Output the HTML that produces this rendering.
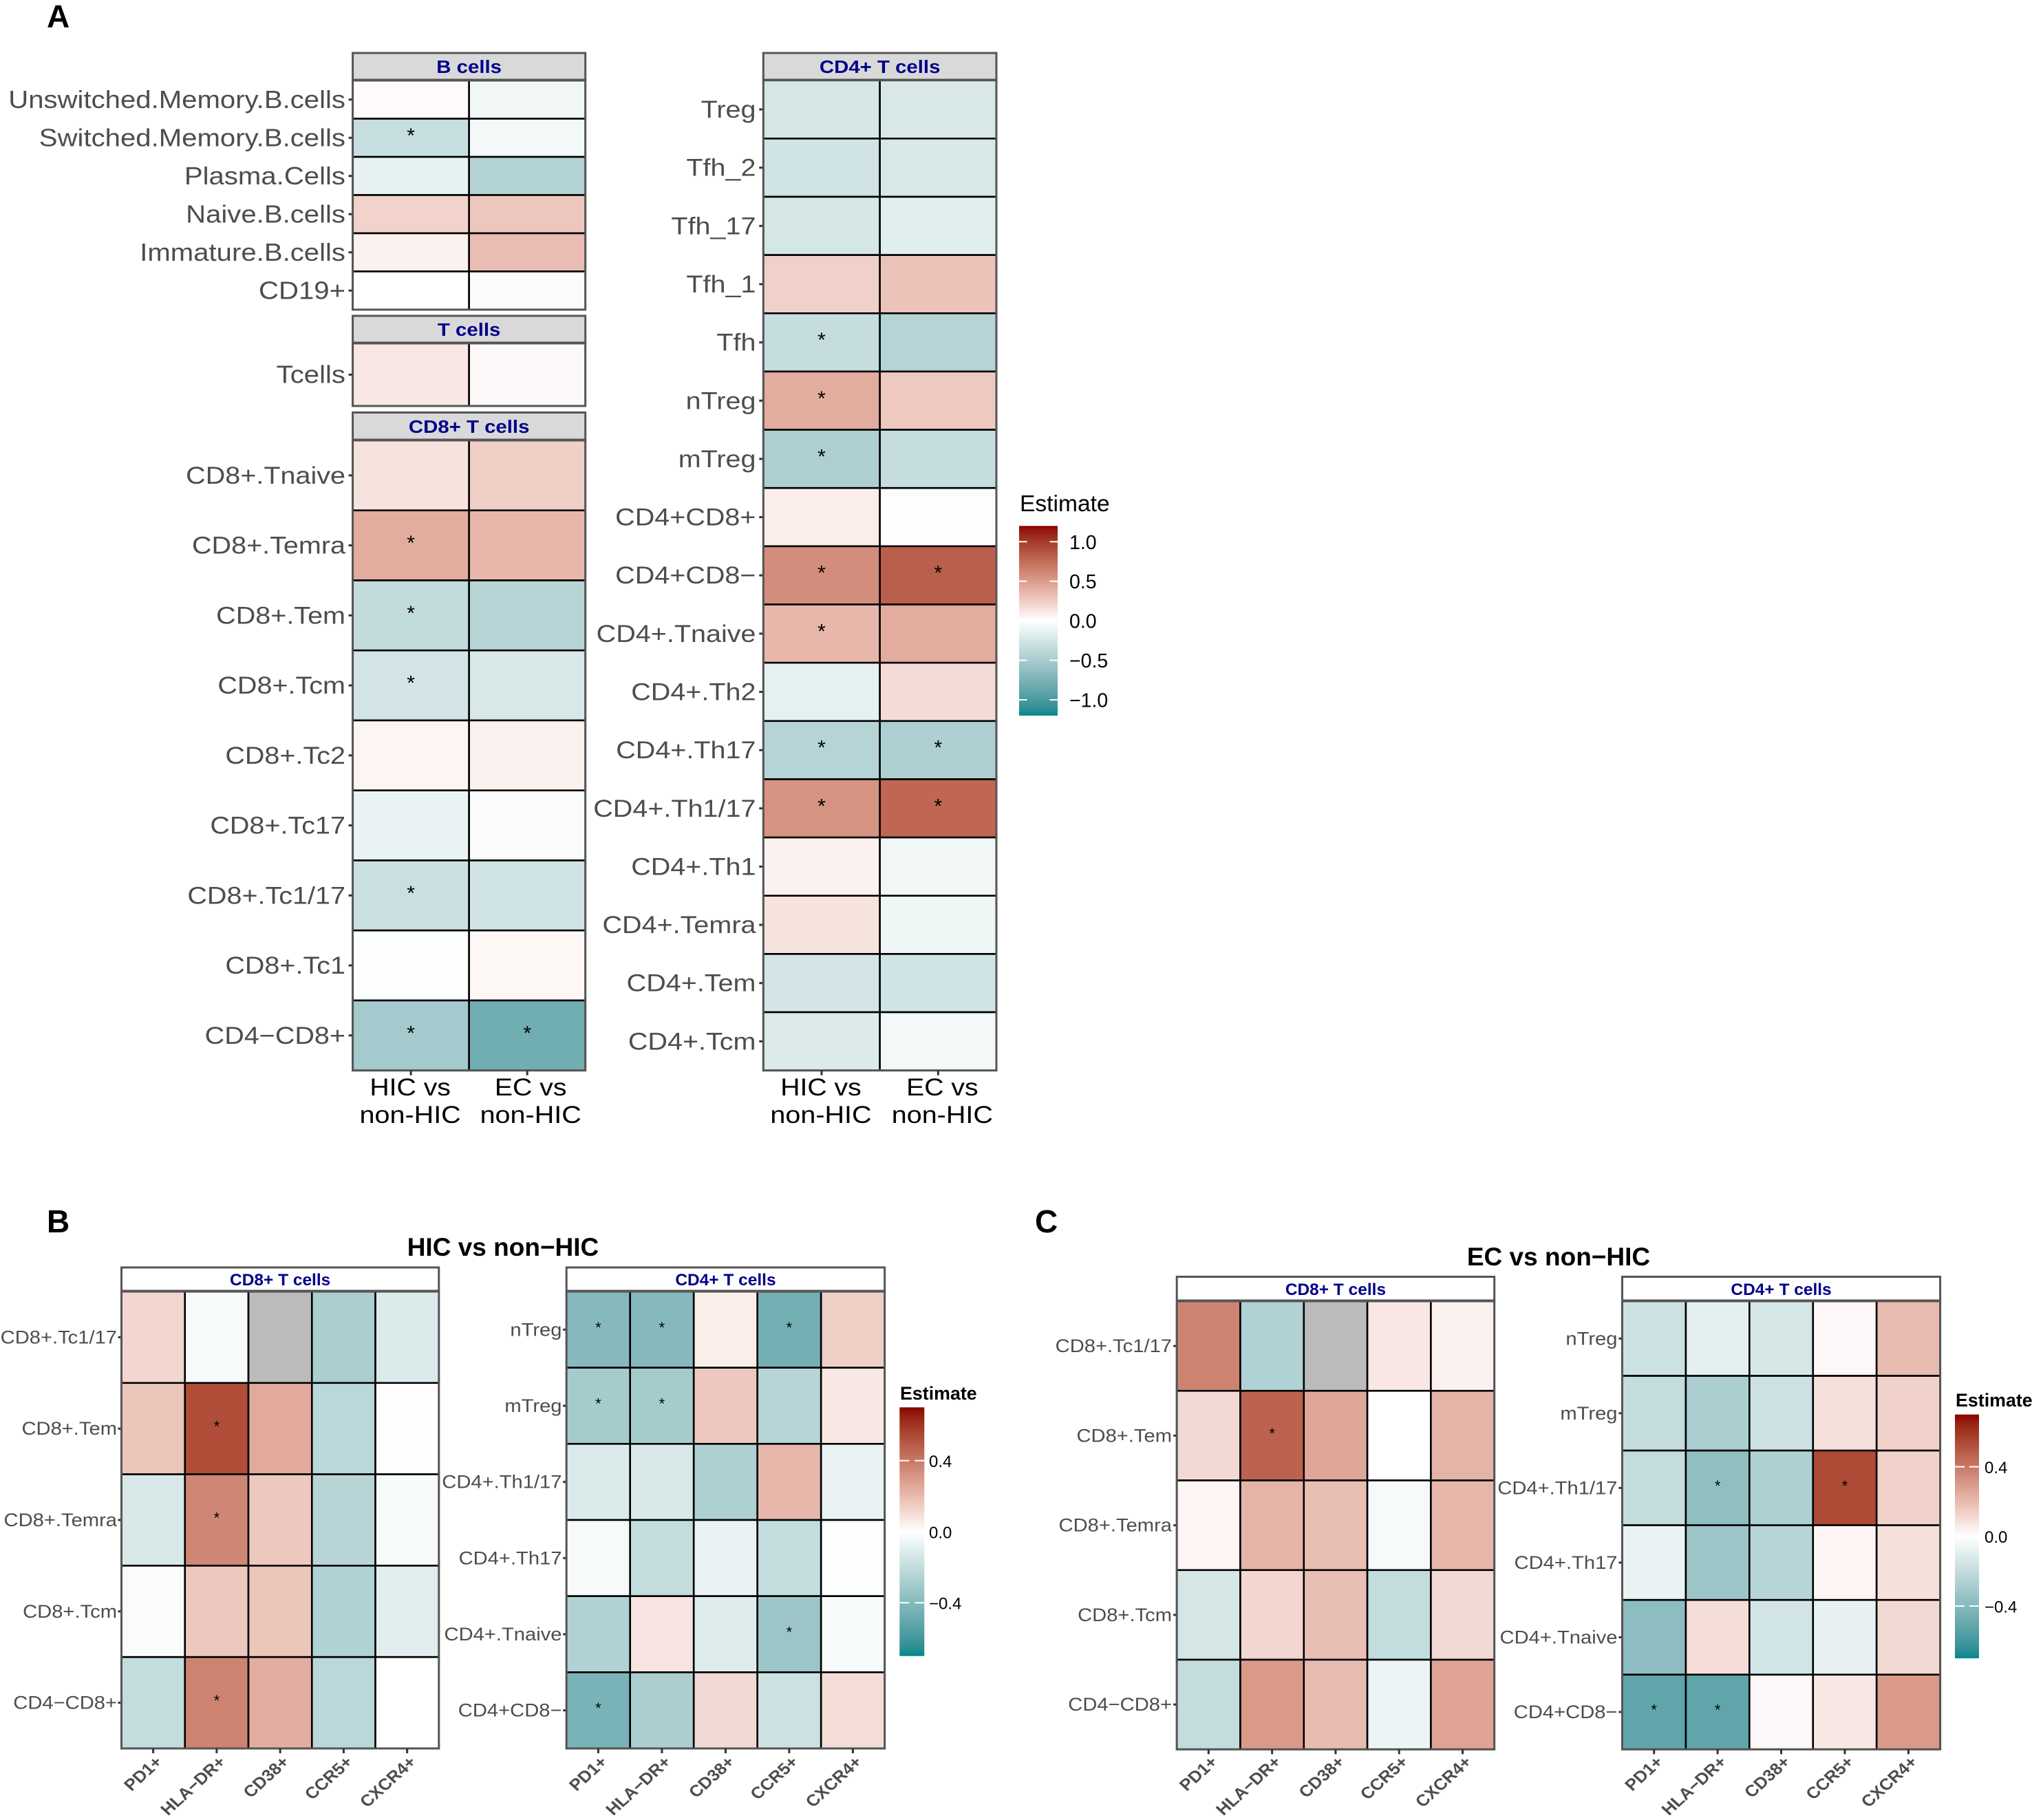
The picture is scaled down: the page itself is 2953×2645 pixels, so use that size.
<!DOCTYPE html>
<html lang="en">
<head>
<meta charset="utf-8">
<title>Immune cell estimate heatmaps</title>
<style>
html,body{margin:0;padding:0;background:#fff;}
svg{display:block;font-family:"Liberation Sans",sans-serif;}
</style>
</head>
<body>
<svg id="figure" xmlns="http://www.w3.org/2000/svg" width="2953" height="2645" viewBox="0 0 2953 2645">
<rect x="0" y="0" width="2953" height="2645" fill="#ffffff"/>
<text x="68" y="39.5" font-size="46" font-weight="700" fill="#000">A</text>
<text x="68" y="1791" font-size="46" font-weight="700" fill="#000">B</text>
<text x="1504" y="1791" font-size="46" font-weight="700" fill="#000">C</text>
<text x="731" y="1825" font-size="37" font-weight="700" text-anchor="middle" fill="#000">HIC vs non−HIC</text>
<text x="2265" y="1839" font-size="37" font-weight="700" text-anchor="middle" fill="#000">EC vs non−HIC</text>
</svg>
<script>
// ---------- Panel A data ----------
const compareLine1 = ["HIC vs", "EC vs"];
const compareLine2 = ["non-HIC", "non-HIC"];

const aBRows = ["Unswitched.Memory.B.cells","Switched.Memory.B.cells","Plasma.Cells","Naive.B.cells","Immature.B.cells","CD19+"];
const aBValues = [[0.02,-0.08],[-0.32,-0.07],[-0.14,-0.44],[0.22,0.28],[0.07,0.33],[0,-0.03]];
const aBStars = [[0,0],[1,0],[0,0],[0,0],[0,0],[0,0]];

const aTRows = ["Tcells"];
const aTValues = [[0.12,0.03]];
const aTStars = [[0,0]];

const aCD8Rows = ["CD8+.Tnaive","CD8+.Temra","CD8+.Tem","CD8+.Tcm","CD8+.Tc2","CD8+.Tc17","CD8+.Tc1/17","CD8+.Tc1","CD4−CD8+"];
const aCD8Values = [[0.14,0.24],[0.42,0.36],[-0.35,-0.42],[-0.26,-0.22],[0.05,0.07],[-0.12,-0.03],[-0.31,-0.27],[-0.01,0.04],[-0.52,-0.80]];
const aCD8Stars = [[0,0],[1,0],[1,0],[1,0],[0,0],[0,0],[1,0],[0,0],[1,1]];

const aCD4Rows = ["Treg","Tfh_2","Tfh_17","Tfh_1","Tfh","nTreg","mTreg","CD4+CD8+","CD4+CD8−","CD4+.Tnaive","CD4+.Th2","CD4+.Th17","CD4+.Th1/17","CD4+.Th1","CD4+.Temra","CD4+.Tem","CD4+.Tcm"];
const aCD4Values = [[-0.24,-0.22],[-0.27,-0.22],[-0.24,-0.17],[0.23,0.30],[-0.33,-0.42],[0.42,0.27],[-0.47,-0.33],[0.09,0.01],[0.58,0.82],[0.36,0.42],[-0.15,0.18],[-0.42,-0.47],[0.55,0.78],[0.07,-0.08],[0.14,-0.09],[-0.25,-0.27],[-0.20,-0.07]];
const aCD4Stars = [[0,0],[0,0],[0,0],[0,0],[1,0],[1,0],[1,0],[0,0],[1,1],[1,0],[0,0],[1,1],[1,1],[0,0],[0,0],[0,0],[0,0]];

// ---------- Panels B and C data ----------
const markers = ["PD1+","HLA−DR+","CD38+","CCR5+","CXCR4+"];
const cd8Rows = ["CD8+.Tc1/17","CD8+.Tem","CD8+.Temra","CD8+.Tcm","CD4−CD8+"];
const cd4Rows = ["nTreg","mTreg","CD4+.Th1/17","CD4+.Th17","CD4+.Tnaive","CD4+CD8−"];

const bCD8Values = [[0.12,-0.03,null,-0.28,-0.12],[0.17,0.53,0.25,-0.23,0.005],[-0.13,0.36,0.16,-0.24,-0.03],[-0.02,0.16,0.17,-0.26,-0.10],[-0.20,0.37,0.24,-0.23,0]];
const bCD8Stars = [[0,0,0,0,0],[0,1,0,0,0],[0,1,0,0,0],[0,0,0,0,0],[0,1,0,0,0]];
const bCD4Values = [[-0.40,-0.40,0.05,-0.46,0.14],[-0.30,-0.30,0.16,-0.24,0.07],[-0.12,-0.13,-0.27,0.21,-0.07],[-0.03,-0.20,-0.07,-0.20,-0.01],[-0.26,0.08,-0.11,-0.33,-0.03],[-0.44,-0.28,0.11,-0.17,0.10]];
const bCD4Stars = [[1,1,0,1,0],[1,1,0,0,0],[0,0,0,0,0],[0,0,0,0,0],[0,0,0,1,0],[1,0,0,0,0]];

const cCD8Values = [[0.37,-0.26,null,0.07,0.04],[0.11,0.47,0.26,0,0.22],[0.03,0.22,0.19,-0.03,0.21],[-0.14,0.12,0.19,-0.20,0.11],[-0.20,0.30,0.20,-0.06,0.27]];
const cCD8Stars = [[0,0,0,0,0],[0,1,0,0,0],[0,0,0,0,0],[0,0,0,0,0],[0,0,0,0,0]];
const cCD4Values = [[-0.17,-0.09,-0.14,0.02,0.20],[-0.20,-0.28,-0.17,0.09,0.13],[-0.20,-0.37,-0.27,0.54,0.13],[-0.07,-0.33,-0.24,0.03,0.09],[-0.38,0.10,-0.15,-0.08,0.11],[-0.52,-0.52,0.02,0.07,0.30]];
const cCD4Stars = [[0,0,0,0,0],[0,0,0,0,0],[0,1,0,1,0],[0,0,0,0,0],[0,0,0,0,0],[1,1,0,0,0]];

// ---------- Legend data ----------
const legendATicks = [1.0,0.5,0,-0.5,-1.0];
const legendATickLabels = ["1.0","0.5","0.0","−0.5","−1.0"];
const legendSmallTicks = [0.4,0,-0.4];
const legendSmallTickLabels = ["0.4","0.0","−0.4"];
const limitA = 1.2;
const limitBC = 0.7;

// ---------- Helpers ----------
const svg = document.getElementById('figure');
const NS = 'http://www.w3.org/2000/svg';

function mk(tag, name, parent) {
  const el = document.createElementNS(NS, tag);
  
  
  (parent || svg).appendChild(el);
  return el;
}
function attrs(el, o) { for (const k in o) el.setAttribute(k, o[k]); return el; }
function slug(s) { return String(s).toLowerCase().replace(/[^a-z0-9]+/g, '-').replace(/^-|-$/g, ''); }

function label(name, parent, str, x, y, o) {
  const t = mk('text', name, parent);
  const sx = o.sx || 1;
  attrs(t, {
    transform: 'translate(' + x + ',' + y + ') scale(' + sx + ',1)' + (o.rot ? ' rotate(' + o.rot + ')' : ''),
    'font-size': o.size,
    'font-weight': o.bold ? 700 : 400,
    'text-anchor': o.anchor || 'start',
    fill: o.fill || '#000'
  });
  t.textContent = str;
  return t;
}

// Lab colour interpolation (as ggplot2's scale_fill_gradient2)
function hex2rgb(h) { return [1,3,5].map(i => parseInt(h.substr(i,2),16)/255); }
function toLab(c) {
  const l = c.map(v => v <= 0.04045 ? v/12.92 : Math.pow((v+0.055)/1.055, 2.4));
  const X = (0.4124*l[0]+0.3576*l[1]+0.1805*l[2])/0.95047;
  const Y = 0.2126*l[0]+0.7152*l[1]+0.0722*l[2];
  const Z = (0.0193*l[0]+0.1192*l[1]+0.9505*l[2])/1.08883;
  const f = t => t > 0.008856 ? Math.cbrt(t) : 7.787*t + 16/116;
  return [116*f(Y)-16, 500*(f(X)-f(Y)), 200*(f(Y)-f(Z))];
}
function fromLab(L) {
  const fy = (L[0]+16)/116, fx = L[1]/500+fy, fz = fy-L[2]/200;
  const g = t => t*t*t > 0.008856 ? t*t*t : (t-16/116)/7.787;
  const X = g(fx)*0.95047, Y = g(fy), Z = g(fz)*1.08883;
  const r = 3.2406*X-1.5372*Y-0.4986*Z, gg = -0.9689*X+1.8758*Y+0.0415*Z, b = 0.0557*X-0.2040*Y+1.0570*Z;
  const e = v => { v = Math.max(0, Math.min(1, v)); return Math.round(255*(v <= 0.0031308 ? 12.92*v : 1.055*Math.pow(v,1/2.4)-0.055)); };
  return 'rgb(' + e(r) + ',' + e(gg) + ',' + e(b) + ')';
}
const labHigh = toLab(hex2rgb('#8B0000'));
const labLow = toLab(hex2rgb('#00878E'));
const labMid = toLab(hex2rgb('#FFFFFF'));
function colorScale(limit) {
  return function (v) {
    if (v === null) return '#bbbbbb';
    const t = Math.max(-1, Math.min(1, v/limit));
    const end = t >= 0 ? labHigh : labLow, a = Math.abs(t);
    return fromLab(labMid.map((m, i) => m + (end[i]-m)*a));
  };
}
function bandScale(n, a, b) {
  const step = (b-a)/n;
  return { step: step, start: i => a + i*step, center: i => a + (i+0.5)*step };
}

// ---------- Heatmap panel ----------
function drawPanel(p) {
  const g = mk('g', p.name);
  const x = bandScale(p.cols.length, p.x0, p.x1);
  const y = bandScale(p.rows.length, p.y0, p.y1);
  const fill = colorScale(p.limit);

  const strip = mk('rect', p.name + '-strip', g);
  attrs(strip, { x: p.x0, y: p.stripTop, width: p.x1-p.x0, height: p.stripBottom-p.stripTop, fill: p.stripFill, stroke: '#555', 'stroke-width': 3 });
  label(p.name + '-strip-title', g, p.title, (p.x0+p.x1)/2, p.stripBaseline, { size: p.stripSize, sx: p.stripSx, bold: true, anchor: 'middle', fill: '#00008B' });

  p.rows.forEach(function (row, r) {
    const tick = mk('line', 'y-tick-' + slug(row), g);
    attrs(tick, { x1: p.x0-p.tickLen, x2: p.x0, y1: y.center(r), y2: y.center(r), stroke: '#333', 'stroke-width': 3 });
    label('y-label-' + slug(row), g, row, p.labelRight, y.center(r)+p.labelDy, { size: p.labelSize, sx: p.labelSx, anchor: 'end', fill: '#4d4d4d' });

    p.cols.forEach(function (col, c) {
      const cell = mk('rect', 'cell-' + slug(row) + '-' + slug(col), g);
      attrs(cell, { x: x.start(c), y: y.start(r), width: x.step, height: y.step, fill: fill(p.values[r][c]), stroke: '#000', 'stroke-width': 2.6 });
    });
  });

  p.rows.forEach(function (row, r) {
    p.cols.forEach(function (col, c) {
      if (p.stars[r][c]) {
        label('significance-star', g, '*', x.center(c), y.center(r)+p.starDy, { size: p.starSize, anchor: 'middle' });
      }
    });
  });

  const border = mk('rect', p.name + '-border', g);
  attrs(border, { x: p.x0, y: p.y0, width: p.x1-p.x0, height: p.y1-p.y0, fill: 'none', stroke: '#555', 'stroke-width': 3 });

  if (p.showX) {
    p.cols.forEach(function (col, c) {
      const tick = mk('line', 'x-tick-' + slug(col), g);
      attrs(tick, { x1: x.center(c), x2: x.center(c), y1: p.y1, y2: p.y1+7, stroke: '#333', 'stroke-width': 3 });
      if (p.line2) {
        const dx = c === 0 ? -1 : p.secondDx;
        label('x-label-' + slug(col) + '-line-1', g, col, x.center(c)+dx, 1592, { size: 35, sx: 1.12, anchor: 'middle' });
        label('x-label-' + slug(col) + '-line-2', g, p.line2[c], x.center(c)+dx, 1632, { size: 35, sx: 1.13, anchor: 'middle' });
      } else {
        label('x-label-' + slug(col), g, col, x.center(c)+14.5, 2562, { size: 23.5, sx: 1.1, bold: true, anchor: 'end', fill: '#4d4d4d', rot: -45 });
      }
    });
  }
}

// ---------- Legend ----------
function drawLegend(l) {
  const g = mk('g', l.name);
  const yScale = v => (l.y0+l.y1)/2 - v*(l.y1-l.y0)/(2*l.limit);
  const fill = colorScale(l.limit);
  const defs = mk('defs', l.name + '-defs', g);
  const grad = mk('linearGradient', l.name + '-gradient', defs);
  attrs(grad, { id: l.name + '-grad', x1: 0, x2: 0, y1: 0, y2: 1 });
  for (let i = 0; i <= 40; i++) {
    const stop = mk('stop', 'gradient-stop', grad);
    attrs(stop, { offset: (i/40), 'stop-color': fill(l.limit*(1-i/20)) });
  }
  const bar = mk('rect', l.name + '-colorbar', g);
  attrs(bar, { x: l.x0, y: l.y0, width: l.x1-l.x0, height: l.y1-l.y0, fill: 'url(#' + l.name + '-grad)' });
  label(l.name + '-title', g, 'Estimate', l.titleX, l.titleY, { size: l.titleSize, bold: l.titleBold, sx: 1 });
  l.ticks.forEach(function (v, i) {
    const yy = yScale(v);
    const left = mk('line', l.name + '-tick-left', g);
    attrs(left, { x1: l.x0, x2: l.x0+l.tickLen, y1: yy, y2: yy, stroke: '#fff', 'stroke-width': 2 });
    const right = mk('line', l.name + '-tick-right', g);
    attrs(right, { x1: l.x1-l.tickLen, x2: l.x1, y1: yy, y2: yy, stroke: '#fff', 'stroke-width': 2 });
    label(l.name + '-label-' + slug(l.labels[i]), g, l.labels[i], l.labelX, yy+l.labelDy, { size: l.labelSize });
  });
}

// ---------- Build figure ----------
const panelAStyle = { limit: limitA, labelSize: 36, labelSx: 1.115, labelDy: 12, tickLen: 6, stripFill: '#d9d9d9', stripSize: 26, stripSx: 1.13, starSize: 30, starDy: 6.5 };
const panelBCStyle = { labelSize: 27, labelSx: 1.08, labelDy: 9, tickLen: 5, stripFill: '#ffffff', stripSize: 24, stripSx: 1.02, starSize: 22, starDy: 4.5, cols: markers, showX: true };

drawPanel(Object.assign({}, panelAStyle, { name: 'heatmap-a-b-cells', title: 'B cells', rows: aBRows, cols: compareLine1, values: aBValues, stars: aBStars, x0: 512.6, x1: 850.7, y0: 117, y1: 450, stripTop: 77, stripBottom: 116, stripBaseline: 106, labelRight: 502 }));
drawPanel(Object.assign({}, panelAStyle, { name: 'heatmap-a-t-cells', title: 'T cells', rows: aTRows, cols: compareLine1, values: aTValues, stars: aTStars, x0: 512.6, x1: 850.7, y0: 499, y1: 590, stripTop: 459, stripBottom: 498, stripBaseline: 488, labelRight: 502 }));
drawPanel(Object.assign({}, panelAStyle, { name: 'heatmap-a-cd8-t-cells', title: 'CD8+ T cells', rows: aCD8Rows, cols: compareLine1, values: aCD8Values, stars: aCD8Stars, x0: 512.6, x1: 850.7, y0: 640, y1: 1555.7, stripTop: 599.5, stripBottom: 639, stripBaseline: 629, labelRight: 502, labelSize: 35, labelSx: 1.13, showX: true, line2: compareLine2, secondDx: 5 }));
drawPanel(Object.assign({}, panelAStyle, { name: 'heatmap-a-cd4-t-cells', title: 'CD4+ T cells', rows: aCD4Rows, cols: compareLine1, values: aCD4Values, stars: aCD4Stars, x0: 1109.3, x1: 1448, y0: 116.7, y1: 1555.7, stripTop: 77, stripBottom: 116, stripBaseline: 106, labelRight: 1098.5, labelSize: 35, labelSx: 1.13, showX: true, line2: compareLine2, secondDx: 6 }));

drawPanel(Object.assign({}, panelBCStyle, { name: 'heatmap-b-cd8-t-cells', limit: limitBC, title: 'CD8+ T cells', rows: cd8Rows, values: bCD8Values, stars: bCD8Stars, x0: 176.5, x1: 637.8, y0: 1877, y1: 2541, stripTop: 1842, stripBottom: 1876, stripBaseline: 1868, labelRight: 170 }));
drawPanel(Object.assign({}, panelBCStyle, { name: 'heatmap-b-cd4-t-cells', limit: limitBC, title: 'CD4+ T cells', rows: cd4Rows, values: bCD4Values, stars: bCD4Stars, x0: 823.2, x1: 1285.7, y0: 1877, y1: 2541, stripTop: 1842, stripBottom: 1876, stripBaseline: 1868, labelRight: 816.5 }));
drawPanel(Object.assign({}, panelBCStyle, { name: 'heatmap-c-cd8-t-cells', limit: limitBC, title: 'CD8+ T cells', rows: cd8Rows, values: cCD8Values, stars: cCD8Stars, x0: 1710.2, x1: 2171.7, y0: 1891, y1: 2542.3, stripTop: 1855.5, stripBottom: 1890, stripBaseline: 1882, labelRight: 1703 }));
drawPanel(Object.assign({}, panelBCStyle, { name: 'heatmap-c-cd4-t-cells', limit: limitBC, title: 'CD4+ T cells', rows: cd4Rows, values: cCD4Values, stars: cCD4Stars, x0: 2357.5, x1: 2819.6, y0: 1891, y1: 2542.3, stripTop: 1855.5, stripBottom: 1890, stripBaseline: 1882, labelRight: 2350.5 }));

drawLegend({ name: 'legend-a', limit: limitA, ticks: legendATicks, labels: legendATickLabels, x0: 1481, x1: 1537, y0: 764.3, y1: 1040, tickLen: 11.5, titleX: 1482, titleY: 743, titleSize: 33.6, titleBold: false, labelX: 1554, labelDy: 10.5, labelSize: 28.5 });
drawLegend({ name: 'legend-b', limit: limitBC, ticks: legendSmallTicks, labels: legendSmallTickLabels, x0: 1307.3, x1: 1343.3, y0: 2045.3, y1: 2406.7, tickLen: 14, titleX: 1308, titleY: 2034, titleSize: 26.8, titleBold: true, labelX: 1350, labelDy: 9.3, labelSize: 24 });
drawLegend({ name: 'legend-c', limit: limitBC, ticks: legendSmallTicks, labels: legendSmallTickLabels, x0: 2841, x1: 2876, y0: 2055.7, y1: 2410, tickLen: 14, titleX: 2842, titleY: 2044, titleSize: 26.8, titleBold: true, labelX: 2884, labelDy: 9.3, labelSize: 24 });
</script>
</body>
</html>
